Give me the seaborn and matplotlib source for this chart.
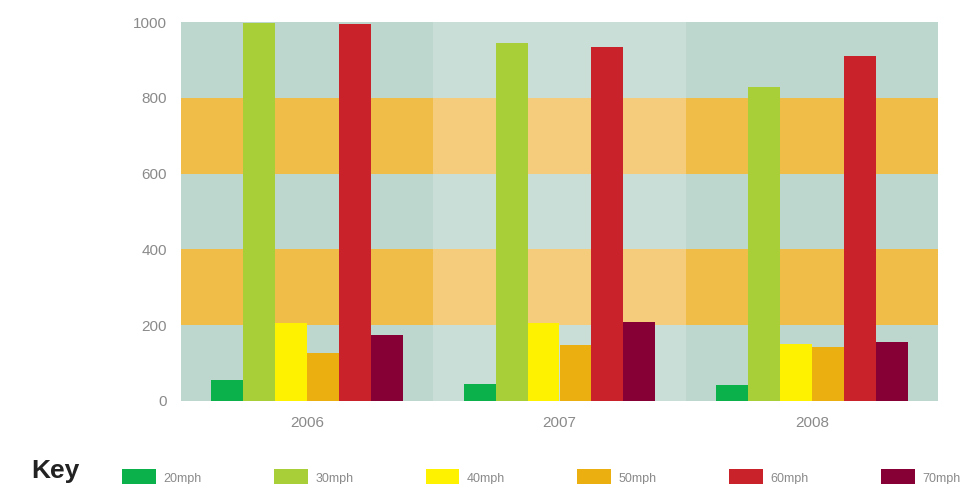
import matplotlib
matplotlib.use("Agg")
import matplotlib.pyplot as plt
from matplotlib.patches import Rectangle, Patch
import seaborn as sns
import pandas as pd

years = ["2006", "2007", "2008"]
speeds = ["20mph", "30mph", "40mph", "50mph", "60mph", "70mph"]
mph20 = [55, 45, 42]
mph30 = [998, 945, 828]
mph40 = [206, 206, 150]
mph50 = [127, 148, 142]
mph60 = [995, 934, 910]
mph70 = [174, 208, 156]
colors = ["#0bb14b", "#a8cf38", "#fef200", "#ebb00f", "#c9222b", "#870035"]

series = [mph20, mph30, mph40, mph50, mph60, mph70]
rows = []
for sp, vals in zip(speeds, series):
    for yr, v in zip(years, vals):
        rows.append({"year": yr, "speed": sp, "value": v})
df = pd.DataFrame(rows)

sns.set_style("white")
plt.rcParams["font.family"] = ["Liberation Sans", "DejaVu Sans"]

fig = plt.figure(figsize=(9.69, 4.84), dpi=100)
ax = fig.add_axes([181 / 969, 1 - 401 / 484, (938 - 181) / 969, (401 - 22) / 484])

# striped background, middle group lighter
for i in range(len(years)):
    light = i % 2 == 1
    for j in range(5):
        if j % 2 == 0:
            c = "#c9ded7" if light else "#bdd7ce"
        else:
            c = "#f4cc7b" if light else "#f0bd48"
        ax.add_patch(Rectangle((i - 0.5, j * 200), 1, 200, color=c, lw=0, zorder=0))

sns.barplot(data=df, x="year", y="value", hue="speed", palette=colors,
            width=0.76, saturation=1, ax=ax, zorder=2, linewidth=0)

ax.set_xlim(-0.5, len(years) - 0.5)
ax.set_ylim(0, 1000)
ax.set_yticks(range(0, 1001, 200))
ax.set_xlabel("")
ax.set_ylabel("")
sns.despine(ax=ax, left=True, bottom=True)
ax.tick_params(length=0, labelsize=11, labelcolor="#8a8a8a")
ax.tick_params(axis="y", pad=10)
ax.tick_params(axis="x", pad=11)
ax.get_legend().remove()

handles = [Patch(color=c, lw=0) for c in colors]
fig.legend(handles, speeds, loc="center left", bbox_to_anchor=(111 / 969, 1 - 478 / 484),
           ncol=6, frameon=False, fontsize=9, handlelength=2.7, handleheight=1.8,
           handletextpad=0.6, columnspacing=5.78, labelcolor="#8a8a8a")
fig.text(31 / 969, 1 - 478 / 484, "Key", fontsize=19, fontweight="bold",
         color="#222222", va="baseline", ha="left")

fig.savefig("out.png", dpi=100)
